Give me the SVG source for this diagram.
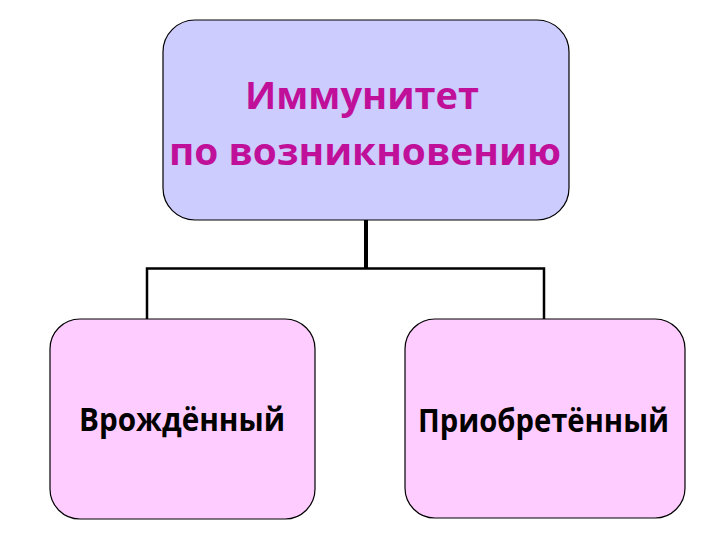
<svg xmlns="http://www.w3.org/2000/svg" width="720" height="540" viewBox="0 0 720 540">
<style>
.box{stroke:#000;stroke-width:1.2}
.top{fill:#CCCCFF}
.sub{fill:#FFCCFF}
.t1{font-family:"Open Sans","Liberation Sans",sans-serif;font-weight:bold;font-size:38px;fill:#C0109A;text-anchor:middle}
.t2{font-family:"Open Sans","Liberation Sans",sans-serif;font-weight:bold;font-size:32px;fill:#000;text-anchor:middle}
.ln{fill:none;stroke:#000}
</style>
<rect width="720" height="540" fill="#fff"/>
<g id="connectors">
<line class="ln" x1="366" y1="220" x2="366" y2="269" stroke-width="4"/>
<polyline class="ln" points="147,319 147,268.5 544,268.5 544,319" stroke-width="2.5"/>
</g>
<g id="node-top">
<rect class="box top" x="163" y="20" width="406" height="200" rx="32"/>
<text class="t1" x="362" y="109" textLength="234" lengthAdjust="spacingAndGlyphs">Иммунитет</text>
<text class="t1" x="365" y="165" textLength="392" lengthAdjust="spacingAndGlyphs">по возникновению</text>
</g>
<g id="node-innate">
<rect class="box sub" x="50" y="319" width="265" height="200" rx="30"/>
<text class="t2" x="182" y="431" textLength="206" lengthAdjust="spacingAndGlyphs">Врождённый</text>
</g>
<g id="node-acquired">
<rect class="box sub" x="405" y="319" width="280" height="199" rx="30"/>
<text class="t2" x="543.5" y="432" textLength="251" lengthAdjust="spacingAndGlyphs">Приобретённый</text>
</g>
</svg>
